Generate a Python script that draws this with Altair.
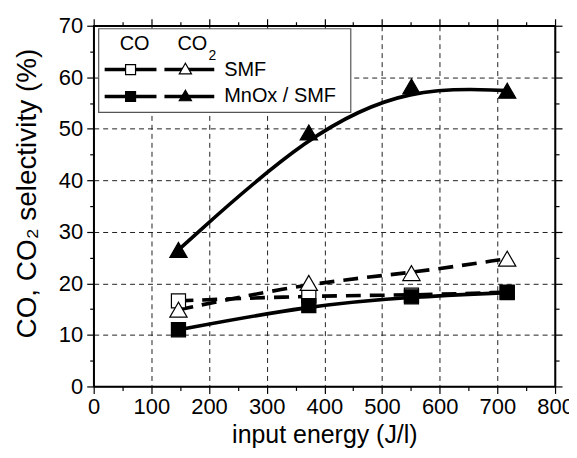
import altair as alt
import pandas as pd

# ---- data ----
energy = [147, 373, 551, 717]
co_smf = [16.6, 17.6, 17.7, 18.3]
co2_smf = [14.9, 20.1, 22.0, 24.8]
co_mnox = [11.0, 15.7, 17.4, 18.2]
co2_mnox = [26.5, 49.3, 58.2, 57.4]

x_ticks = list(range(0, 801, 50))
y_ticks = list(range(0, 71, 5))

series = {
    "co_smf": co_smf,
    "co2_smf": co2_smf,
    "co_mnox": co_mnox,
    "co2_mnox": co2_mnox,
}
rows = []
for key, vals in series.items():
    for e, v in zip(energy, vals):
        rows.append({"key": key, "energy": e, "sel": v})
df = pd.DataFrame(rows)

FONT = "Liberation Sans"
major_x = "datum.value % 100 === 0"
major_y = "datum.value % 10 === 0"

xscale = alt.Scale(domain=[0, 800], nice=False, zero=False)
yscale = alt.Scale(domain=[0, 70], nice=False, zero=False)

common = dict(
    tickColor="black", tickWidth=1.2,
    domainColor="black", domainWidth=1.5,
    labelFont=FONT, labelFontSize=22, labelColor="black",
    labelOverlap=False, labelFlush=False,
    titleFont=FONT, titleFontWeight="normal", titleColor="black",
)

xaxis = alt.Axis(
    orient="bottom", values=x_ticks,
    title="input energy (J/l)", titlePadding=5, titleFontSize=25, labelPadding=3,
    labelExpr="datum.value % 100 === 0 ? datum.label : ''",
    tickSize={"condition": {"test": major_x, "value": 7}, "value": 4},
    grid=True, gridColor="#222", gridDash=[5, 4], gridWidth=1,
    gridOpacity={"condition": {"test": "datum.value % 100 === 0 && datum.value > 0 && datum.value < 800", "value": 1}, "value": 0},
    **common,
)
yaxis = alt.Axis(
    orient="left", values=y_ticks,
    title="CO, CO\u2082 selectivity (%)", titlePadding=17, titleFontSize=28, labelPadding=4,
    titleY=168,
    labelExpr="datum.value % 10 === 0 ? datum.label : ''",
    tickSize={"condition": {"test": major_y, "value": 7}, "value": 4},
    grid=True, gridColor="#222", gridDash=[5, 4], gridWidth=1,
    gridOpacity={"condition": {"test": "datum.value % 10 === 0 && datum.value > 0 && datum.value < 70", "value": 1}, "value": 0},
    **common,
)
xaxis_top = alt.Axis(
    orient="top", values=x_ticks, title=None, labels=False, grid=False,
    tickSize={"condition": {"test": major_x, "value": 7}, "value": 4},
    tickColor="black", tickWidth=1.2, domainColor="black", domainWidth=1.5,
)
yaxis_right = alt.Axis(
    orient="right", values=y_ticks, title=None, labels=False, grid=False,
    tickSize={"condition": {"test": major_y, "value": 7}, "value": 4},
    tickColor="black", tickWidth=1.2, domainColor="black", domainWidth=1.5,
)

base = alt.Chart(df)

# frame axes: main (bottom/left) and mirrored ticks (top/right)
axes_main = base.mark_point(opacity=0).encode(
    x=alt.X("energy:Q", scale=xscale, axis=xaxis),
    y=alt.Y("sel:Q", scale=yscale, axis=yaxis),
)
axes_mirror = base.mark_point(opacity=0).encode(
    x=alt.X("energy:Q", scale=xscale, axis=xaxis_top),
    y=alt.Y("sel:Q", scale=yscale, axis=yaxis_right),
)


def curve(key, dash):
    kw = {"strokeDash": dash} if dash else {}
    return (
        base.transform_filter(alt.datum.key == key)
        .mark_line(color="black", strokeWidth=3.6, interpolate="basis", **kw)
        .encode(
            x=alt.X("energy:Q", scale=xscale, axis=None),
            y=alt.Y("sel:Q", scale=yscale, axis=None),
        )
    )


def markers(key, shape, filled, size):
    return (
        base.transform_filter(alt.datum.key == key)
        .mark_point(
            shape=shape, size=size, filled=True,
            fill="black" if filled else "white",
            stroke="black", strokeWidth=1.2, opacity=1,
        )
        .encode(
            x=alt.X("energy:Q", scale=xscale, axis=None),
            y=alt.Y("sel:Q", scale=yscale, axis=None),
        )
    )


lines = [
    curve("co_smf", [15, 9]),
    curve("co2_smf", [15, 9]),
    curve("co_mnox", None),
    curve("co2_mnox", None),
]
pts = [
    markers("co_smf", "square", False, 200),
    markers("co_mnox", "square", True, 200),
    markers("co2_smf", "triangle-up", False, 300),
    markers("co2_mnox", "triangle-up", True, 300),
]

# ---- custom legend (pixel positions inside the plot) ----
one = alt.Chart(pd.DataFrame({"a": [0]}))
legend_box = one.mark_rect(fill="white", stroke="#555", strokeWidth=1.2).encode(
    x=alt.value(5), x2=alt.value(258), y=alt.value(3), y2=alt.value(87)
)


def ltext(txt, x, y, size=20, align="center"):
    return one.mark_text(font=FONT, fontSize=size, color="black", align=align, baseline="middle").encode(
        x=alt.value(x), y=alt.value(y), text=alt.value(txt)
    )


def lseg(x1, x2, y):
    return one.mark_rule(color="black", strokeWidth=3.6).encode(
        x=alt.value(x1), x2=alt.value(x2), y=alt.value(y)
    )


def lmark(x, y, shape, filled, size):
    return one.mark_point(
        shape=shape, size=size, filled=True,
        fill="black" if filled else "white", stroke="black", strokeWidth=1.2, opacity=1,
    ).encode(x=alt.value(x), y=alt.value(y))


legend = [
    legend_box,
    ltext("CO", 41, 18),
    ltext("CO", 99, 18),
    ltext("2", 119, 30, size=14),
    lseg(11, 63, 44), lseg(71, 121, 44),
    lmark(37, 44, "square", False, 100), lmark(92, 43, "triangle-up", False, 150),
    ltext("SMF", 131, 44, align="left"),
    lseg(11, 63, 71), lseg(71, 121, 71),
    lmark(37, 71, "square", True, 100), lmark(92, 70, "triangle-up", True, 150),
    ltext("MnOx / SMF", 131, 71, align="left"),
]

chart = (
    alt.layer(axes_main, axes_mirror, *lines, *pts, *legend)
    .resolve_axis(x="independent", y="independent")
    .properties(
        width=463, height=362,
        autosize=alt.AutoSizeParams(type="none"),
        padding={"left": 86, "top": 17, "right": 14, "bottom": 68},
        background="white",
    )
    .configure_view(stroke="black", strokeWidth=1.5)
)

chart.save("out.html", embed_options={"renderer": "svg", "actions": False})
